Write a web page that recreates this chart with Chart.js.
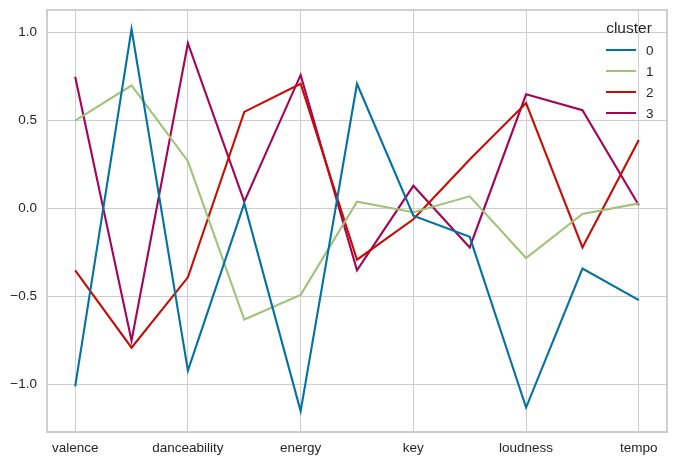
<!DOCTYPE html>
<html>
<head>
    <title>Cluster parallel coordinates</title>
    <script src="https://cdn.jsdelivr.net/npm/chart.js"></script>
    <style>
        body {
            margin: 0;
            background: #fff;
        }
    </style>
</head>
<body>
    <canvas id="clusterChart" width="677" height="467"></canvas>

    <script>
// features along the x axis (only every other one gets a label)
const features = ['valence', 'acousticness', 'danceability', 'duration_ms', 'energy',
    'instrumentalness', 'key', 'liveness', 'loudness', 'speechiness', 'tempo'];

const clusterNames = ['0', '1', '2', '3'];

const cluster0 = [-1.01, 1.02, -0.92, 0.03, -1.15, 0.71, -0.04, -0.16, -1.13, -0.34, -0.52];
const cluster1 = [0.50, 0.70, 0.27, -0.63, -0.49, 0.04, -0.02, 0.07, -0.28, -0.03, 0.03];
const cluster2 = [-0.35, -0.79, -0.39, 0.55, 0.71, -0.29, -0.06, 0.28, 0.60, -0.22, 0.39];
const cluster3 = [0.75, -0.75, 0.94, 0.04, 0.76, -0.35, 0.13, -0.22, 0.65, 0.56, 0.02];

const yTicks = [-1.0, -0.5, 0.0, 0.5, 1.0];

const colors = ['#0272a2', '#9fc377', '#ca0b03', '#a50258'];
const gridColor = '#cfcfcf';
const font = "'Liberation Sans', Arial, sans-serif";

// matplotlib-style box around the plot area
const frame = {
    id: 'frame',
    afterDatasetsDraw(chart) {
        const a = chart.chartArea;
        const ctx = chart.ctx;
        ctx.save();
        ctx.strokeStyle = gridColor;
        ctx.lineWidth = 2;
        ctx.strokeRect(a.left, a.top, a.right - a.left, a.bottom - a.top);
        ctx.restore();
    }
};

// legend drawn inside the upper right corner, no box
const innerLegend = {
    id: 'innerLegend',
    afterDraw(chart) {
        const a = chart.chartArea;
        const ctx = chart.ctx;
        ctx.save();
        ctx.fillStyle = '#262626';
        ctx.textBaseline = 'middle';
        ctx.textAlign = 'center';
        ctx.font = '15.5px ' + font;
        ctx.fillText('cluster', a.right - 38, 29);
        ctx.textAlign = 'left';
        ctx.font = '13.5px ' + font;
        chart.data.datasets.forEach((ds, i) => {
            const y = 50 + i * 21;
            ctx.strokeStyle = ds.borderColor;
            ctx.lineWidth = 2;
            ctx.beginPath();
            ctx.moveTo(a.right - 61, y);
            ctx.lineTo(a.right - 31, y);
            ctx.stroke();
            ctx.fillText(ds.label, a.right - 21, y + 1);
        });
        ctx.restore();
    }
};

const allSeries = [cluster0, cluster1, cluster2, cluster3];

new Chart(document.getElementById('clusterChart'), {
    type: 'line',
    data: {
        labels: features,
        datasets: allSeries.map((s, i) => ({
            label: clusterNames[i],
            data: s,
            borderColor: colors[i],
            backgroundColor: colors[i],
            borderWidth: 2.1,
            pointRadius: 0,
            tension: 0,
            fill: false
        }))
    },
    options: {
        responsive: false,
        animation: false,
        layout: {
            padding: { top: 10, right: 10, left: 0, bottom: 0 }
        },
        plugins: {
            legend: { display: false },
            tooltip: { enabled: false }
        },
        scales: {
            x: {
                type: 'category',
                offset: true,
                border: { display: false },
                grid: {
                    offset: false,
                    drawTicks: false,
                    color: ctx => ctx.index % 2 === 0 ? gridColor : 'rgba(0,0,0,0)'
                },
                ticks: {
                    autoSkip: false,
                    maxRotation: 0,
                    padding: 8,
                    color: '#262626',
                    font: { family: font, size: 13.5 },
                    callback: function (val, i) {
                        return i % 2 === 0 ? this.getLabelForValue(val) : '';
                    }
                },
                afterFit(scale) {
                    scale.height = 35;
                    scale.paddingLeft = 0;
                    scale.paddingRight = 0;
                }
            },
            y: {
                min: -1.269,
                max: 1.129,
                border: { display: false },
                grid: { drawTicks: false, color: gridColor },
                ticks: {
                    padding: 10,
                    color: '#262626',
                    font: { family: font, size: 13.5 },
                    callback: v => (v < 0 ? '\u2212' : '') + Math.abs(v).toFixed(1)
                },
                afterBuildTicks(scale) {
                    scale.ticks = yTicks.map(v => ({ value: v }));
                },
                afterFit(scale) {
                    scale.width = 47;
                    scale.paddingTop = 0;
                    scale.paddingBottom = 0;
                }
            }
        }
    },
    plugins: [frame, innerLegend]
});
</script>
</body>
</html>
